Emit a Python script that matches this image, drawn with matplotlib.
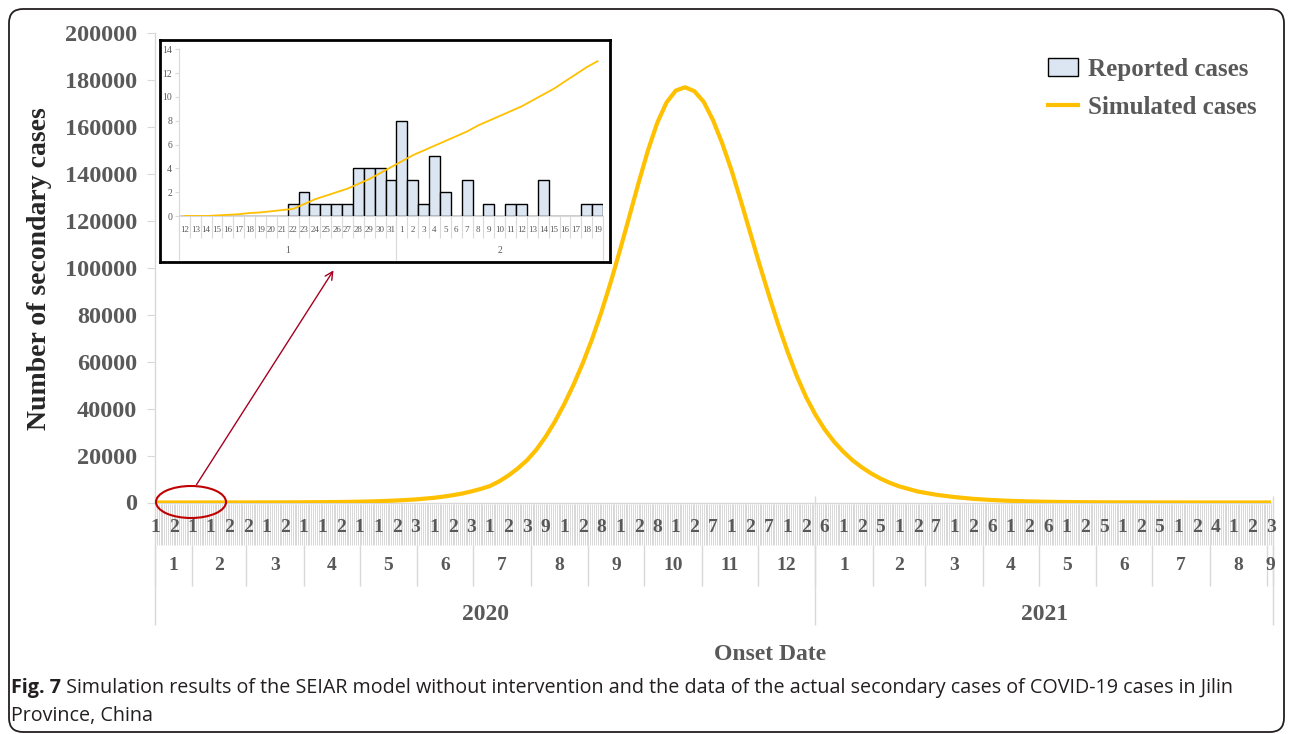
import numpy as np
import pandas as pd
import matplotlib
matplotlib.use('Agg')
import matplotlib.pyplot as plt
from matplotlib import transforms
from matplotlib.patches import Patch, Ellipse, FancyBboxPatch, FancyArrowPatch
from matplotlib.lines import Line2D

# ---- data -------------------------------------------------------------
# main chart: day index counted from 2020-01-12
sim_days = [0, 10, 20, 30, 40, 50, 60, 70, 80, 90, 100, 110, 120, 130, 140,
            150, 155, 160, 165, 170, 175, 180, 185, 190, 195, 200, 205, 210,
            215, 220, 225, 230, 235, 240, 245, 250, 255, 260, 265, 270, 275,
            280, 285, 290, 295, 300, 305, 310, 315, 320, 325, 330, 335, 340,
            345, 350, 355, 360, 365, 370, 375, 380, 385, 390, 395, 400, 410,
            420, 430, 440, 450, 460, 470, 480, 490, 500, 510, 520, 530, 540,
            550, 560, 570, 580, 590, 600]
sim_cases = [0, 0.4, 4.6, 8.8, 14, 22, 35, 55, 90, 140, 220, 350, 550, 850, 1300,
             2000, 2500, 3100, 3800, 4700, 5750, 7000, 9000, 11500, 14500,
             18000, 22500, 28000, 34500, 41900, 50200, 59400, 69700, 81200,
             93900, 107600, 121900, 136300, 150000, 161800, 170500, 175600,
             177000, 175300, 170800, 163000, 153000, 141500, 128500, 115000,
             101500, 88500, 76000, 64500, 54000, 45000, 37500, 31200, 26000,
             21700, 18000, 15000, 12400, 10200, 8400, 6900, 4700, 3300, 2300,
             1550, 1050, 700, 460, 300, 195, 125, 80, 52, 33, 21, 13, 8, 5, 3,
             2, 1]

# truncated day labels, one every 10 days (as shown on the chart)
day_tick_labels = ['1', '2', '1', '1', '2', '2', '1', '2', '1', '1', '2', '1',
                   '1', '2', '3', '1', '2', '3', '1', '2', '3', '9', '1', '2',
                   '8', '1', '2', '8', '1', '2', '7', '1', '2', '7', '1', '2',
                   '6', '1', '2', '5', '1', '2', '7', '1', '2', '6', '1', '2',
                   '6', '1', '2', '5', '1', '2', '5', '1', '2', '4', '1', '2', '3']

start_date = '2020-01-12'
month_starts = ['2020-01-12', '2020-02-01', '2020-03-01', '2020-04-01',
                '2020-05-01', '2020-06-01', '2020-07-01', '2020-08-01',
                '2020-09-01', '2020-10-01', '2020-11-01', '2020-12-01',
                '2021-01-01', '2021-02-01', '2021-03-01', '2021-04-01',
                '2021-05-01', '2021-06-01', '2021-07-01', '2021-08-01',
                '2021-09-01', '2021-09-04']
month_labels = ['1', '2', '3', '4', '5', '6', '7', '8', '9', '10', '11', '12',
                '1', '2', '3', '4', '5', '6', '7', '8', '9']
year_starts = ['2020-01-12', '2021-01-01', '2021-09-04']
year_labels = ['2020', '2021']

# inset: 12 Jan - 19 Feb 2020
inset_labels = ['12', '13', '14', '15', '16', '17', '18', '19', '20', '21', '22',
                '23', '24', '25', '26', '27', '28', '29', '30', '31', '1', '2',
                '3', '4', '5', '6', '7', '8', '9', '10', '11', '12', '13', '14',
                '15', '16', '17', '18', '19']
inset_months = ['1', '2']
reported = [0, 0, 0, 0, 0, 0, 0, 0, 0, 0, 1, 2, 1, 1, 1, 1, 4, 4, 4, 3,
            8, 3, 1, 5, 2, 0, 3, 0, 1, 0, 1, 1, 0, 3, 0, 0, 0, 1, 1]
inset_sim = [0, 0, 0, 0.05, 0.1, 0.15, 0.25, 0.3, 0.4, 0.5, 0.6, 1.0, 1.4,
             1.7, 2.0, 2.3, 2.7, 3.1, 3.6, 4.1, 4.6, 5.1, 5.5, 5.9, 6.3, 6.7,
             7.1, 7.6, 8.0, 8.4, 8.8, 9.2, 9.7, 10.2, 10.7, 11.3, 11.9, 12.5, 13.0]

# ---- style --------------------------------------------------------------
W, H = 1292, 734
GRAY = '#595959'
LIGHT = '#d9d9d9'
ORANGE = '#ffc000'
BAR_FC = '#dce6f2'
SERIF = 'Liberation Serif'


def fx(px):
    return px / W


def fy(py):
    return 1 - py / H


def day_of(dates):
    return (pd.to_datetime(dates) - pd.Timestamp(start_date)).days.values


fig = plt.figure(figsize=(W / 100, H / 100), dpi=100)

# ---- main chart ---------------------------------------------------------
ax = fig.add_axes([fx(155), fy(502.5), fx(1271) - fx(155), fy(33.3) - fy(502.5)])
ax.plot(sim_days, sim_cases, color=ORANGE, lw=3, solid_capstyle='butt',
        solid_joinstyle='round', zorder=3)

for side in ['top', 'right']:
    ax.spines[side].set_visible(False)
for side in ['left', 'bottom']:
    ax.spines[side].set_color(LIGHT)
    ax.spines[side].set_linewidth(1)

ax.set_yticks(np.arange(0, 200001, 20000))
ax.set_yticklabels([str(v) for v in range(0, 200001, 20000)],
                   fontfamily=SERIF, fontweight='bold', fontsize=17.5, color=GRAY)
ax.tick_params(axis='y', length=6, color=LIGHT, pad=7)
ax.set_xticks([])

blend = transforms.blended_transform_factory(ax.transData, fig.transFigure)
all_days = np.arange(0, 601)
ax.vlines(all_days, fy(545), fy(504), transform=blend, colors='#d2d2d2',
          lw=0.6, clip_on=False)
for i, lab in enumerate(day_tick_labels):
    ax.text(i * 10, fy(528), lab, transform=blend, ha='center', va='center',
            fontfamily=SERIF, fontweight='bold', fontsize=14, color=GRAY)

m_days = day_of(month_starts)
ax.vlines(m_days, fy(586), fy(545), transform=blend, colors=LIGHT, lw=1,
          clip_on=False)
for k, lab in enumerate(month_labels):
    ax.text((m_days[k] + m_days[k + 1]) / 2, fy(565), lab, transform=blend,
            ha='center', va='center', fontfamily=SERIF, fontweight='bold',
            fontsize=14, color=GRAY)

y_days = day_of(year_starts)
ax.vlines(y_days, fy(625), fy(496), transform=blend, colors=LIGHT, lw=1,
          clip_on=False)
for k, lab in enumerate(year_labels):
    ax.text((y_days[k] + y_days[k + 1]) / 2, fy(615), lab, transform=blend,
            ha='center', va='center', fontfamily=SERIF, fontweight='bold',
            fontsize=17, color=GRAY)

ax.set_xlim(0, 600)
ax.set_ylim(0, 200000)

fig.text(fx(770), fy(654), 'Onset Date', ha='center', va='center',
         fontfamily=SERIF, fontweight='bold', fontsize=17, color=GRAY)
fig.text(fx(40), fy(269), 'Number of secondary cases', rotation=90,
         ha='center', va='center', fontfamily=SERIF, fontweight='bold',
         fontsize=20, color='#262626')

handles = [Patch(facecolor=BAR_FC, edgecolor='black', linewidth=1),
           Line2D([], [], color=ORANGE, lw=3)]
ax.legend(handles, ['Reported cases', 'Simulated cases'], loc='upper left',
          bbox_to_anchor=(fx(1048), fy(58)), bbox_transform=fig.transFigure,
          frameon=False, prop={'family': SERIF, 'weight': 'bold', 'size': 18},
          labelcolor=GRAY, handlelength=1.2, handleheight=0.75,
          handletextpad=0.4, labelspacing=0.6, borderpad=0, borderaxespad=0)

# ---- inset --------------------------------------------------------------
frame = fig.add_axes([fx(160), fy(262), fx(610) - fx(160), fy(40) - fy(262)])
frame.set_zorder(3)
frame.set_xticks([])
frame.set_yticks([])
for sp in frame.spines.values():
    sp.set_linewidth(2)
    sp.set_color('black')

ins = fig.add_axes([fx(179), fy(216), fx(603) - fx(179), fy(49.3) - fy(216)])
ins.set_zorder(4)
ins.patch.set_alpha(0)
pos = np.arange(len(inset_labels))
ins.bar(pos, reported, width=1, facecolor=BAR_FC, edgecolor='black',
        linewidth=1, zorder=2)
ins.plot(pos, inset_sim, color=ORANGE, lw=1.3, zorder=3)
ins.set_xlim(-0.5, len(inset_labels) - 0.5)
ins.set_ylim(0, 14)
for side in ['top', 'right']:
    ins.spines[side].set_visible(False)
for side in ['left', 'bottom']:
    ins.spines[side].set_color(LIGHT)
ins.set_yticks(np.arange(0, 15, 2))
ins.set_yticklabels([str(v) for v in range(0, 15, 2)], fontfamily=SERIF,
                    fontsize=7, color=GRAY)
ins.tick_params(axis='y', length=3, color=LIGHT, pad=2)
ins.set_xticks([])

iblend = transforms.blended_transform_factory(ins.transData, fig.transFigure)
ins.vlines(pos - 0.5, fy(238), fy(216), transform=iblend, colors=LIGHT,
           lw=0.8, clip_on=False)
for i, lab in enumerate(inset_labels):
    ins.text(i, fy(230), lab, transform=iblend, ha='center', va='center',
             fontfamily=SERIF, fontsize=6.5, color=GRAY)
group_edges = [-0.5, 19.5, len(inset_labels) - 0.5]
ins.vlines(group_edges, fy(260), fy(216), transform=iblend, colors=LIGHT,
           lw=0.8, clip_on=False)
for k, lab in enumerate(inset_months):
    ins.text((group_edges[k] + group_edges[k + 1]) / 2, fy(250.5), lab,
             transform=iblend, ha='center', va='center', fontfamily=SERIF,
             fontsize=7, color=GRAY)

# ---- annotations --------------------------------------------------------
ident = transforms.IdentityTransform()
fig.add_artist(Ellipse((191, H - 502), 70, 32, transform=ident, fill=False,
                       edgecolor='#c00000', lw=1.5, zorder=10))
fig.add_artist(FancyArrowPatch((195, H - 487), (335, H - 268), transform=ident,
                               arrowstyle='->', mutation_scale=14,
                               color='#a50021', lw=1, zorder=10))

# outer box + caption
fig.add_artist(FancyBboxPatch((9, H - 732), 1275, 723,
                              boxstyle='round,pad=0,rounding_size=14',
                              transform=ident, fill=False, edgecolor='#231f20',
                              lw=1.3, zorder=0))

CAP = 14.2
t1 = fig.text(fx(11), fy(688), 'Fig. 7', fontfamily='Open Sans',
              fontweight='bold', fontsize=CAP, va='center', color='#231f20')
fig.canvas.draw()
bb = t1.get_window_extent(fig.canvas.get_renderer())
fig.text(bb.x1 / W, fy(688),
         ' Simulation results of the SEIAR model without intervention and the '
         'data of the actual secondary cases of COVID-19 cases in Jilin',
         fontfamily='Open Sans', fontsize=CAP, va='center', color='#231f20')
fig.text(fx(11), fy(716), 'Province, China', fontfamily='Open Sans',
         fontsize=CAP, va='center', color='#231f20')

fig.savefig('out.png', dpi=100)
